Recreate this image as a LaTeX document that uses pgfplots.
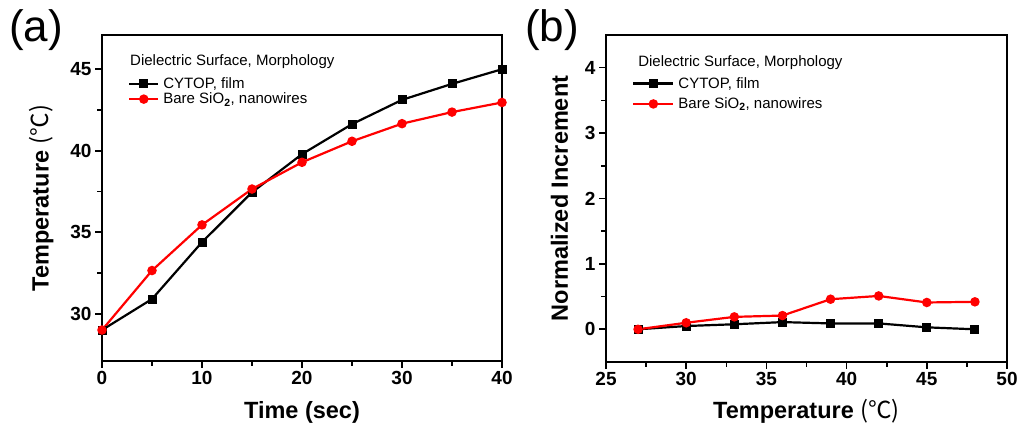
\documentclass[border=0pt]{standalone}
\usepackage{pgfplots}
\pgfplotsset{compat=1.18}
\usepackage{fontspec}
\setmainfont{Liberation Sans}
\newfontfamily\cjk{Noto Sans CJK SC}
\begin{document}
\begin{tikzpicture}
\path[use as bounding box] (0pt,0pt) rectangle (1018pt,425pt);
\pgfplotsset{
  myaxis/.style={
    scale only axis,
    width=400pt, height=326pt,
    axis line style={line width=2pt},
    every tick/.style={line width=1.6pt, black},
    tick align=outside, tick pos=left,
    major tick length=7pt, minor tick length=5pt,
    minor tick num=1,
    /pgf/number format/assume math mode=true,
    tick label style={font=\bfseries\fontsize{19}{19}\selectfont},
    label style={font=\bfseries\fontsize{23.5}{23.5}\selectfont},
    legend style={draw=none, fill=none, font=\fontsize{15}{15}\selectfont, inner sep=0pt, anchor=north west},
    legend cell align=left,
  },
  blk/.style={black, line width=2.2pt, mark=square*, mark size=3.4pt, mark options={solid}},
  rd/.style={red, line width=2.2pt, mark=*, mark size=3.6pt, mark options={solid}},
}
% Panel (a)
\begin{axis}[myaxis,
  at={(102pt,64pt)}, anchor=south west,
  xmin=0, xmax=40, ymin=27.1, ymax=47.1,
  xtick={0,10,20,30,40}, ytick={30,35,40,45},
  xlabel={Time (sec)}, ylabel={Temperature {\cjk\mdseries (℃)}},
  xlabel style={yshift=-10pt}, ylabel style={yshift=10pt},
  legend image code/.code={\draw[mark repeat=2,mark phase=2,#1] plot coordinates {(0pt,0pt) (14.5pt,0pt) (29pt,0pt)};},
  legend style={at={(rel axis cs:0.065,0.87)}, row sep=3pt, nodes={inner xsep=4pt, inner ysep=0pt}},
]
\addplot[blk] coordinates {(0,29.0) (5,30.9) (10,34.39) (15,37.45) (20,39.79) (25,41.63) (30,43.12) (35,44.1) (40,45.0)};
\addlegendentry{CYTOP, film}
\addplot[rd] coordinates {(0,29.0) (5,32.65) (10,35.45) (15,37.65) (20,39.29) (25,40.58) (30,41.66) (35,42.37) (40,42.96)};
\addlegendentry{Bare SiO$_{\mathbf 2}$, nanowires}
\node[anchor=west, font=\fontsize{15}{15}\selectfont, inner sep=0pt] at (rel axis cs:0.07,0.917) {Dielectric Surface, Morphology};
\end{axis}
\node[anchor=north west, inner sep=0pt, font=\fontsize{44}{44}\selectfont] at (9pt,416pt) {(a)};
% Panel (b)
\begin{axis}[myaxis,
  at={(606pt,63pt)}, anchor=south west, width=401pt, height=327pt,
  xmin=25, xmax=50, ymin=-0.5, ymax=4.5,
  xtick={25,30,...,50}, ytick={0,1,2,3,4},
  xlabel={Temperature {\cjk\mdseries (℃)}}, ylabel={Normalized Increment},
  xlabel style={yshift=-6pt}, ylabel style={yshift=10pt},
  legend image code/.code={\draw[mark repeat=2,mark phase=2,#1] plot coordinates {(0pt,0pt) (20pt,0pt) (40pt,0pt)};},
  legend style={at={(rel axis cs:0.065,0.871)}, row sep=8pt, nodes={inner xsep=4pt, inner ysep=0pt}},
]
\addplot[blk] coordinates {(27,0) (30,0.05) (33,0.077) (36,0.11) (39,0.09) (42,0.09) (45,0.03) (48,0.0)};
\addlegendentry{CYTOP, film}
\addplot[rd] coordinates {(27,0) (30,0.10) (33,0.19) (36,0.21) (39,0.46) (42,0.51) (45,0.41) (48,0.42)};
\addlegendentry{Bare SiO$_{\mathbf 2}$, nanowires}
\node[anchor=west, font=\fontsize{15}{15}\selectfont, inner sep=0pt] at (rel axis cs:0.08,0.914) {Dielectric Surface, Morphology};
\end{axis}
\node[anchor=north west, inner sep=0pt, font=\fontsize{44}{44}\selectfont] at (525pt,416pt) {(b)};
\end{tikzpicture}
\end{document}
